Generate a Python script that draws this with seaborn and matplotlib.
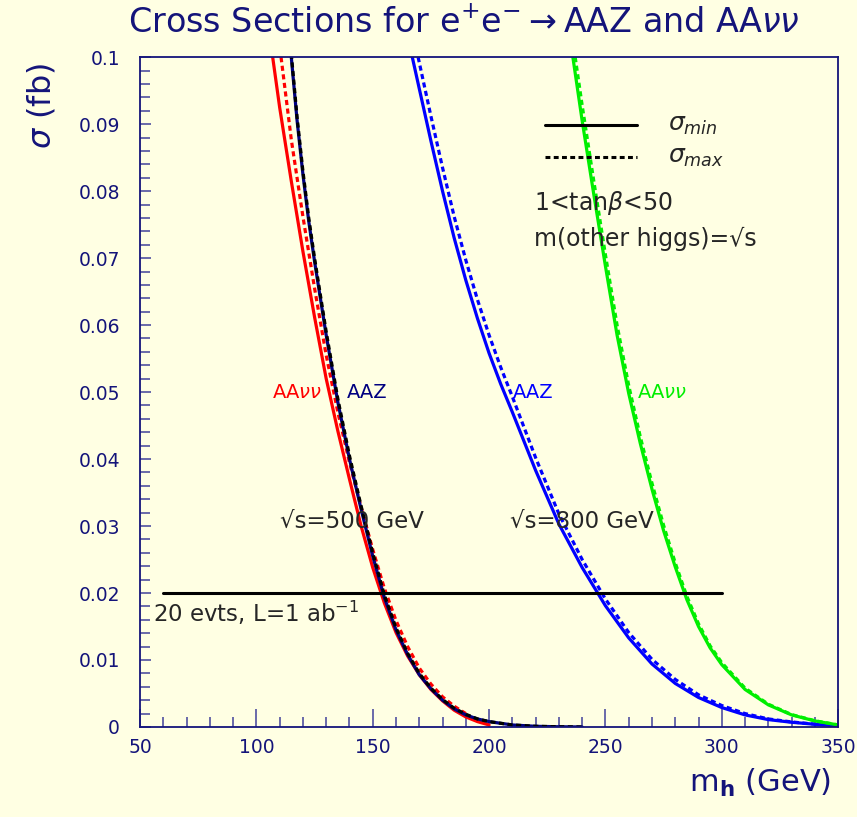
import numpy as np
import pandas as pd
import matplotlib
matplotlib.use("Agg")
import matplotlib.pyplot as plt
from matplotlib.ticker import MultipleLocator
import seaborn as sns

# AA nu nu, sqrt(s)=500 GeV
aann500_min_m = [107, 110, 115, 120, 125, 130, 135, 140, 145, 150, 155, 160, 165, 170, 175, 180, 185, 190, 195, 200]
aann500_min_s = [0.100, 0.0925, 0.0815, 0.071, 0.0612, 0.052, 0.0442, 0.0370, 0.0300, 0.0238, 0.0185, 0.0141,
                 0.0106, 0.0078, 0.0056, 0.0039, 0.0025, 0.0015, 0.0008, 0.0003]
aann500_max_m = [110.6, 115, 120, 125, 130, 135, 140, 145, 150, 155, 160, 165, 170, 175, 180, 185, 190]
aann500_max_s = [0.100, 0.0877, 0.0762, 0.0655, 0.0555, 0.047, 0.0395, 0.0328, 0.0265, 0.0207, 0.0159, 0.0120,
                 0.0088, 0.0064, 0.0045, 0.0031, 0.0020]

# AAZ, sqrt(s)=500 GeV
aaz500_m = [115, 117.5, 120, 122.5, 125, 130, 135, 140, 145, 150, 155, 160, 165, 170, 175, 180, 185, 190, 195, 200,
            210, 220, 230, 240]
aaz500_min_s = [0.100, 0.0905, 0.0825, 0.0755, 0.0695, 0.0585, 0.0485, 0.040, 0.0325, 0.0255, 0.0193, 0.0145,
                0.0108, 0.0078, 0.0057, 0.0040, 0.0027, 0.0018, 0.0012, 0.0008, 0.0003, 0.0001, 0.00003, 0.0]
aaz500_max_s = [0.1005, 0.091, 0.083, 0.076, 0.070, 0.059, 0.049, 0.0405, 0.033, 0.026, 0.0197, 0.0148,
                0.011, 0.0080, 0.0058, 0.0041, 0.0028, 0.0019, 0.0012, 0.0008, 0.0003, 0.0001, 0.00003, 0.0]

# AAZ, sqrt(s)=800 GeV
aaz800_min_m = [167, 170, 175, 180, 185, 190, 195, 200, 205, 210, 220, 230, 240, 250, 260, 270, 280, 290, 300,
                310, 320, 330, 340, 350]
aaz800_min_s = [0.100, 0.0953, 0.0875, 0.0800, 0.0730, 0.0667, 0.0610, 0.0558, 0.0512, 0.0470, 0.0383, 0.0303,
                0.0238, 0.0181, 0.0133, 0.0094, 0.0065, 0.0044, 0.0029, 0.0018, 0.0011, 0.0007, 0.0004, 0.0002]
aaz800_max_m = [169.5, 175, 180, 185, 190, 195, 200, 205, 210, 220, 230, 240, 250, 260, 270, 280, 290, 300,
                310, 320, 330, 340, 350]
aaz800_max_s = [0.100, 0.0912, 0.0835, 0.0762, 0.0697, 0.0638, 0.0585, 0.0537, 0.0493, 0.0402, 0.0318, 0.0250,
                0.0191, 0.0141, 0.0101, 0.0071, 0.0048, 0.0032, 0.0020, 0.0012, 0.00075, 0.00042, 0.00022]

# AA nu nu, sqrt(s)=800 GeV
aann800_min_m = [236, 240, 245, 250, 255, 260, 265, 270, 275, 280, 285, 290, 295, 300, 310, 320, 330, 340, 350]
aann800_min_s = [0.100, 0.0905, 0.0795, 0.0688, 0.0585, 0.0498, 0.0423, 0.0355, 0.0293, 0.0239, 0.0190, 0.0150,
                 0.0118, 0.0093, 0.0056, 0.0033, 0.0018, 0.0009, 0.0003]
aann800_max_m = [237, 240, 245, 250, 255, 260, 265, 270, 275, 280, 285, 290, 295, 300, 310, 320, 330, 340, 350]
aann800_max_s = [0.100, 0.0928, 0.0815, 0.0705, 0.0600, 0.0510, 0.0433, 0.0364, 0.0301, 0.0245, 0.0195, 0.0154,
                 0.0121, 0.0096, 0.0058, 0.0034, 0.00185, 0.00093, 0.00031]

# 20 events line
limit_m = [60, 300]
limit_s = [0.02, 0.02]

bg = "#ffffe3"
navy = "#14147a"

sns.set_theme(style="ticks")
plt.rcParams["font.family"] = ["DejaVu Sans"]
plt.rcParams["mathtext.fontset"] = "dejavusans"

fig = plt.figure(figsize=(8.57, 8.17), dpi=100, facecolor=bg)
ax = fig.add_axes([0.1634, 0.1102, 0.8146, 0.8198])
ax.set_facecolor(bg)

lw = 2.3
dash = (0, (1.6, 1.1))

sns.lineplot(x=aann500_min_m, y=aann500_min_s, ax=ax, color="#ff0000", lw=lw, sort=False)
sns.lineplot(x=aann500_max_m, y=aann500_max_s, ax=ax, color="#ff0000", lw=lw, linestyle=dash, sort=False)
sns.lineplot(x=aaz500_m, y=aaz500_min_s, ax=ax, color="#000080", lw=lw, sort=False)
sns.lineplot(x=aaz500_m, y=aaz500_max_s, ax=ax, color="black", lw=lw, linestyle=dash, sort=False)
sns.lineplot(x=aaz800_min_m, y=aaz800_min_s, ax=ax, color="#0000ff", lw=lw, sort=False)
sns.lineplot(x=aaz800_max_m, y=aaz800_max_s, ax=ax, color="#0000ff", lw=lw, linestyle=dash, sort=False)
sns.lineplot(x=aann800_min_m, y=aann800_min_s, ax=ax, color="#00ee00", lw=lw, sort=False)
sns.lineplot(x=aann800_max_m, y=aann800_max_s, ax=ax, color="#00ee00", lw=lw, linestyle=dash, sort=False)
sns.lineplot(x=limit_m, y=limit_s, ax=ax, color="black", lw=2.2, sort=False)

# legend lines
ax.plot([224, 263.5], [0.0899, 0.0899], color="black", lw=2.2)
ax.plot([224, 263.5], [0.0851, 0.0851], color="black", lw=2.2, linestyle=(0, (1.6, 1.1)))
ax.text(277, 0.0899, r"$\sigma_{min}$", fontsize=18, va="center", ha="left")
ax.text(277, 0.0851, r"$\sigma_{max}$", fontsize=18, va="center", ha="left")
ax.text(219.5, 0.0782, r"1<tan$\beta$<50", fontsize=17, va="center", ha="left")
ax.text(219.5, 0.0728, "m(other higgs)=√s", fontsize=17, va="center", ha="left")

ax.text(117.5, 0.05, r"AA$\nu\nu$", color="#ff0000", fontsize=14, ha="center", va="center")
ax.text(147.5, 0.05, "AAZ", color="#000080", fontsize=14, ha="center", va="center")
ax.text(219, 0.05, "AAZ", color="#0000ff", fontsize=14, ha="center", va="center")
ax.text(274.5, 0.05, r"AA$\nu\nu$", color="#00ee00", fontsize=14, ha="center", va="center")

ax.text(110, 0.0307, "√s=500 GeV", fontsize=16.5, ha="left", va="center")
ax.text(209, 0.0307, "√s=800 GeV", fontsize=16.5, ha="left", va="center")
ax.text(55.5, 0.0171, r"20 evts, L=1 ab$^{-1}$", fontsize=16.5, ha="left", va="center")

ax.set_xlim(50, 350)
ax.set_ylim(0, 0.1)
ax.xaxis.set_minor_locator(MultipleLocator(10))
ax.yaxis.set_minor_locator(MultipleLocator(0.002))
ax.set_xticks(np.arange(50, 351, 50))
ax.set_xticklabels([str(v) for v in range(50, 351, 50)])
yt = np.round(np.arange(0, 0.1001, 0.01), 2)
ax.set_yticks(yt)
ax.set_yticklabels(["0"] + ["%.2f" % v for v in yt[1:-1]] + ["0.1"])
ax.tick_params(axis="x", which="major", direction="in", length=13, width=1.2, color="#5050a0",
               labelsize=13.5, labelcolor=navy, pad=8)
ax.tick_params(axis="x", which="minor", direction="in", length=7, width=1.2, color="#5050a0")
ax.tick_params(axis="y", which="major", direction="in", length=8, width=1.2, color="#5050a0",
               labelsize=13.5, labelcolor=navy, pad=14.5)
ax.tick_params(axis="y", which="minor", direction="in", length=7, width=1.2, color="#5050a0")
for sp in ax.spines.values():
    sp.set_visible(True)
    sp.set_color(navy)
    sp.set_linewidth(1.3)

ax.set_xlabel("")
ax.set_ylabel("")
fig.text(0.970, 0.022, r"m$_{\mathbf{h}}$ (GeV)", fontsize=22, color=navy, ha="right", va="bottom")
fig.text(0.048, 0.923, r"$\sigma$ (fb)", fontsize=23, color=navy, ha="center", va="top", rotation=90)
fig.text(0.541, 0.972, r"Cross Sections for e$^{+}$e$^{-}$$\rightarrow$AAZ and AA$\nu\nu$", fontsize=24,
         color=navy, ha="center", va="center")

fig.savefig("out.png", dpi=100, facecolor=bg)
